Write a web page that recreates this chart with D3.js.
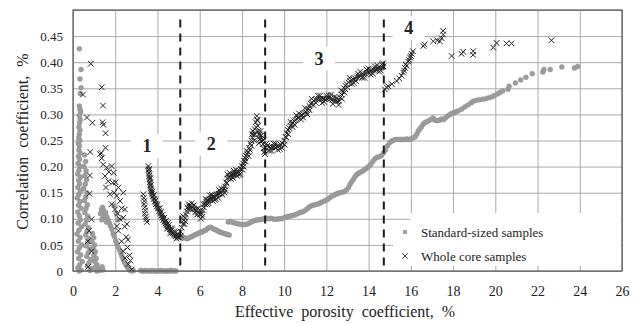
<!DOCTYPE html>
<html>
<head>
<meta charset="utf-8">
<script src="https://cdn.jsdelivr.net/npm/d3@7/dist/d3.min.js"></script>
<style>
  body { margin: 0; background: #fff; }
  text { font-family: "Liberation Serif", "Times New Roman", serif; fill: #222; }
</style>
</head>
<body>
<svg id="chart" width="642" height="324"></svg>
<script>
// tick values / labels
const xTicks = [0, 2, 4, 6, 8, 10, 12, 14, 16, 18, 20, 22, 24, 26];
const yTicks = [0, 0.05, 0.10, 0.15, 0.20, 0.25, 0.30, 0.35, 0.40, 0.45, 0.50];
const yTickLabels = ['0', '0.05', '0.10', '0.15', '0.20', '0.25', '0.30', '0.35', '0.40', '0.45', ''];

// zone boundaries (dashed) and zone numbers
const zoneBounds = [5.08, 9.1, 14.72];
const zoneLabels = ['1', '2', '3', '4'];
const zoneLabelX = [3.5, 6.55, 11.65, 15.9];
const zoneLabelY = [0.239, 0.244, 0.407, 0.465];

// Standard-sized samples (grey dots), [porosity %, correlation]
const standardSamples = [
  [0.30,0.426],[0.38,0.386],[0.33,0.368],[0.38,0.351],[0.35,0.340],[0.30,0.316],[0.33,0.310],[0.36,0.305],
  [0.30,0.298],[0.34,0.290],[0.31,0.284],[0.28,0.276],[0.33,0.270],[0.30,0.262],[0.27,0.255],[0.32,0.250],
  [0.25,0.245],[0.30,0.240],[0.28,0.232],[0.34,0.226],[0.26,0.220],[0.31,0.214],[0.24,0.206],[0.33,0.200],
  [0.28,0.193],[0.22,0.186],[0.35,0.180],[0.27,0.174],[0.31,0.167],[0.23,0.160],[0.36,0.153],[0.28,0.147],
  [0.20,0.140],[0.33,0.133],[0.26,0.126],[0.38,0.120],[0.22,0.113],[0.30,0.106],[0.35,0.098],[0.24,0.092],
  [0.40,0.085],[0.28,0.078],[0.19,0.071],[0.34,0.064],[0.25,0.057],[0.42,0.050],[0.30,0.044],[0.21,0.037],
  [0.36,0.031],[0.27,0.024],[0.44,0.018],[0.32,0.012],[0.23,0.006],[0.38,0.002],[0.29,0.000],
  [0.55,0.222],[0.60,0.210],[0.52,0.200],[0.62,0.192],[0.56,0.183],[0.64,0.175],[0.58,0.166],[0.50,0.158],
  [0.66,0.150],[0.60,0.142],[0.54,0.135],[0.68,0.127],[0.62,0.120],[0.56,0.112],[0.70,0.105],[0.64,0.098],
  [0.58,0.090],[0.73,0.083],[0.66,0.076],[0.60,0.069],[0.76,0.062],[0.69,0.055],[0.62,0.048],[0.80,0.042],
  [0.72,0.035],[0.65,0.028],[0.84,0.022],[0.76,0.016],[0.68,0.010],[0.88,0.005],[0.80,0.001],
  [0.92,0.072],[0.98,0.064],[0.90,0.056],[1.02,0.050],[0.95,0.043],[1.06,0.037],[0.99,0.030],[1.10,0.024],
  [1.03,0.018],[1.14,0.012],[1.07,0.007],[1.18,0.003],[1.25,0.001],[1.12,0.000],[1.32,0.004],[1.38,0.008],[1.42,0.002],
  [1.30,0.110],[1.35,0.118],[1.40,0.122],[1.45,0.116],[1.50,0.108],[1.42,0.102],[1.36,0.098],[1.55,0.112],
  [1.60,0.104],[1.65,0.098],[1.58,0.094],
  [1.72,0.092],[1.78,0.086],[1.84,0.080],[1.90,0.072],[1.96,0.066],[2.02,0.058],[2.08,0.052],[2.14,0.046],
  [2.20,0.040],[2.26,0.034],[2.32,0.028],[2.38,0.022],[2.44,0.017],[2.50,0.012],[2.56,0.008],[2.62,0.005],
  [2.70,0.002],[2.78,0.000],[2.86,0.001],[1.95,0.125],[2.05,0.110],[2.12,0.098],
  [3.20,0.001],[3.28,0],[3.36,0],[3.44,0.001],[3.52,0],[3.60,0],[3.68,0],[3.76,0.001],[3.84,0],[3.92,0],
  [4.00,0],[4.08,0],[4.16,0.001],[4.24,0],[4.32,0],[4.40,0],[4.48,0],[4.56,0],[4.64,0.001],[4.72,0],[4.80,0],[4.88,0],
  [3.56,0.196],[3.60,0.188],[3.62,0.180],[3.64,0.172],[3.66,0.165],[3.68,0.158],[3.72,0.150],[3.76,0.144],
  [3.82,0.138],[3.90,0.130],[4.00,0.120],[4.10,0.112],[4.20,0.104],[4.30,0.096],[4.40,0.090],[4.50,0.084],
  [4.60,0.078],[4.70,0.074],[4.80,0.070],[4.90,0.068],
  [5.00,0.066],[5.08,0.064],[5.16,0.063],[5.24,0.064],[5.32,0.063],[5.40,0.062],[5.48,0.063],[5.56,0.065],
  [5.64,0.066],[5.72,0.068],[5.80,0.070],[5.88,0.071],[5.96,0.073],[6.04,0.074],[6.12,0.075],[6.20,0.077],
  [6.28,0.078],[6.36,0.081],[6.44,0.083],[6.52,0.084],[6.60,0.082],[6.68,0.080],[6.76,0.079],[6.84,0.077],
  [6.92,0.075],[7.00,0.074],[7.08,0.073],[7.16,0.072],[7.24,0.071],[7.32,0.070],[7.40,0.069],
  [7.35,0.094],[7.45,0.095],[7.55,0.093],[7.65,0.092],[7.75,0.091],[7.85,0.090],[7.95,0.089],[8.05,0.089],
  [8.15,0.089],[8.25,0.090],[8.35,0.092],[8.45,0.094],[8.55,0.096],[8.65,0.097],[8.75,0.098],[8.85,0.098],
  [8.95,0.099],[9.05,0.100],[9.15,0.101],
  [9.25,0.100],[9.35,0.101],[9.45,0.100],[9.55,0.099],[9.65,0.099],[9.75,0.100],[9.85,0.100],[9.95,0.101],
  [10.05,0.103],[10.15,0.104],[10.25,0.105],[10.35,0.106],[10.45,0.107],[10.55,0.108],[10.65,0.110],[10.75,0.112],
  [10.85,0.113],[10.95,0.115],[11.05,0.118],[11.15,0.121],[11.25,0.124],[11.35,0.126],[11.45,0.127],[11.55,0.128],
  [11.65,0.129],[11.75,0.131],[11.85,0.133],[11.95,0.135],[12.05,0.137],[12.15,0.140],[12.25,0.143],[12.35,0.145],
  [12.45,0.147],[12.55,0.149],[12.65,0.150],[12.75,0.151],[12.85,0.152],[12.95,0.155],[13.05,0.160],[13.12,0.166],
  [13.20,0.171],[13.28,0.176],[13.36,0.181],[13.44,0.185],[13.52,0.187],[13.60,0.189],[13.70,0.191],[13.80,0.194],
  [13.90,0.197],[14.00,0.200],[14.10,0.204],[14.20,0.210],[14.30,0.215],[14.40,0.218],[14.50,0.219],[14.60,0.221],
  [14.70,0.226],[14.80,0.232],[14.90,0.240],[15.00,0.246],
  [15.10,0.249],[15.20,0.251],[15.30,0.252],[15.40,0.252],[15.50,0.252],[15.60,0.252],[15.70,0.252],[15.80,0.253],
  [15.90,0.252],[16.00,0.253],[16.10,0.255],[16.20,0.257],[16.28,0.262],[16.35,0.268],[16.42,0.272],[16.50,0.276],
  [16.58,0.281],[16.66,0.284],[16.75,0.286],[16.85,0.288],[16.95,0.290],[17.05,0.293],[17.15,0.289],[17.25,0.288],
  [17.35,0.289],[17.45,0.291],[17.55,0.290],[17.65,0.294],[17.75,0.297],[17.85,0.300],[17.95,0.302],[18.05,0.303],
  [18.15,0.305],[18.25,0.307],[18.40,0.310],[18.55,0.314],[18.70,0.318],[18.85,0.322],[18.95,0.325],[19.10,0.327],
  [19.25,0.328],[19.40,0.329],[19.55,0.330],[19.70,0.332],[19.85,0.334],[19.95,0.336],[20.10,0.339],[20.22,0.342],
  [20.35,0.345],[20.60,0.348],[20.65,0.354],[20.95,0.360],[21.20,0.366],[21.45,0.371],[21.75,0.378],[22.25,0.381],
  [22.30,0.386],[22.60,0.386],[23.15,0.391],[23.75,0.389],[23.90,0.392]
];

// Whole core samples (crosses), [porosity %, correlation]
const wholeCoreSamples = [
  [0.84,0.397],[1.36,0.352],[0.47,0.338],[1.42,0.317],[0.66,0.294],[0.92,0.284],[1.40,0.285],[1.44,0.280],
  [1.54,0.264],[0.82,0.228],[1.34,0.226],[1.54,0.236],
  [0.80,0.183],[0.78,0.148],[0.88,0.099],[0.76,0.077],[0.70,0.057],[0.88,0.038],[0.72,0.008],
  [1.28,0.224],[1.36,0.216],[1.43,0.204],[1.60,0.198],[1.83,0.201],[1.52,0.182],[1.67,0.172],[1.88,0.169],
  [1.56,0.160],[1.75,0.147],[2.07,0.144],[2.23,0.134],[1.83,0.128],[1.99,0.118],[2.38,0.150],[2.46,0.118],
  [2.38,0.102],[2.07,0.086],[2.15,0.077],[2.30,0.057],[2.38,0.038],[2.46,0.025],[2.62,0.013],[2.78,0.003],
  [2.52,0.065],[2.58,0.045],[2.68,0.030],[2.72,0.020],[2.22,0.100],[2.12,0.110],[1.95,0.150],[1.70,0.190],
  [1.92,0.188],[2.02,0.170],[2.15,0.160],[2.30,0.120],[2.45,0.085],[2.55,0.090],[2.60,0.060],
  [3.33,0.147],[3.35,0.140],[3.38,0.134],[3.36,0.128],[3.40,0.122],[3.42,0.116],[3.40,0.110],[3.44,0.104],
  [3.47,0.099],[3.50,0.094],
  [3.57,0.201],[3.58,0.194],[3.60,0.188],[3.61,0.182],[3.63,0.176],[3.64,0.170],[3.66,0.164],[3.68,0.158],
  [3.70,0.153],[3.74,0.148],[3.78,0.143],[3.83,0.138],[3.88,0.133],[3.93,0.128],[3.98,0.124],[4.03,0.120],
  [4.08,0.115],[4.13,0.110],[4.18,0.106],[4.23,0.102],[4.28,0.098],[4.33,0.094],[4.38,0.091],[4.43,0.088],
  [4.48,0.085],[4.53,0.083],[4.58,0.080],[4.63,0.077],[4.68,0.074],[4.73,0.072],[4.78,0.070],[4.83,0.068],
  [4.88,0.067],[4.93,0.066],[4.98,0.065],[5.03,0.064],
  [4.10,0.120],[4.25,0.108],[4.40,0.096],[4.55,0.088],[4.70,0.080],[4.85,0.074],[4.60,0.072],[4.45,0.081],
  [3.62,0.196],[3.66,0.178],[3.70,0.165],[3.76,0.152],[3.84,0.146],[3.92,0.136],[4.00,0.128],[4.18,0.114],
  [4.32,0.102],[4.50,0.092],[4.66,0.082],[4.80,0.076],[4.95,0.071],[4.90,0.062],
  [5.10,0.075],[5.15,0.083],[5.20,0.090],[5.25,0.097],[5.30,0.102],[5.35,0.108],[5.40,0.114],[5.45,0.119],
  [5.50,0.124],[5.55,0.126],[5.60,0.124],[5.65,0.122],[5.70,0.120],[5.75,0.119],[5.80,0.118],[5.85,0.116],
  [5.90,0.113],[5.95,0.111],[6.00,0.109],[6.05,0.108],[6.10,0.110],[6.15,0.116],[6.20,0.122],[6.25,0.128],
  [6.30,0.133],[6.35,0.135],[6.40,0.136],[6.45,0.137],[6.50,0.138],[6.55,0.139],[6.60,0.140],[6.65,0.141],
  [6.70,0.143],[6.75,0.145],[6.80,0.146],[6.85,0.147],[6.90,0.148],[6.95,0.149],[7.00,0.150],[7.05,0.152],
  [7.10,0.155],[7.15,0.158],[7.20,0.162],[7.25,0.170],[7.30,0.177],[7.35,0.179],[7.40,0.180],[7.45,0.182],
  [7.50,0.183],[7.55,0.184],[7.60,0.185],[7.65,0.186],[7.70,0.187],[7.75,0.188],[7.80,0.189],[7.85,0.190],
  [7.90,0.192],[7.95,0.196],[8.00,0.201],[8.05,0.206],[8.10,0.211],[8.15,0.216],[8.20,0.220],[8.25,0.224],
  [8.30,0.228],[8.35,0.236],[8.40,0.244],[8.45,0.250],[8.50,0.256],[8.55,0.262],[8.60,0.272],[8.65,0.285],
  [8.70,0.297],[8.72,0.290],[8.75,0.278],[8.78,0.268],[8.82,0.262],[8.86,0.258],[8.90,0.254],[8.95,0.249],
  [9.00,0.243],[9.03,0.235],[9.06,0.228],[9.09,0.224],
  [5.22,0.105],[5.32,0.095],[5.48,0.128],[5.62,0.130],[5.78,0.112],[5.92,0.120],[6.05,0.100],[6.18,0.128],
  [6.35,0.128],[6.48,0.145],[6.62,0.134],[6.78,0.138],[6.92,0.155],[7.08,0.146],[7.22,0.155],[7.32,0.185],
  [7.48,0.176],[7.62,0.192],[7.78,0.182],[7.92,0.186],[8.08,0.200],[8.22,0.230],[8.38,0.232],[8.48,0.262],
  [8.58,0.250],[8.68,0.275],[8.80,0.245],[8.88,0.268],
  [5.12,0.068],[5.28,0.090],[5.42,0.122],[5.58,0.118],[5.72,0.126],[5.88,0.108],[6.02,0.116],[6.12,0.104],
  [6.28,0.138],[6.42,0.130],[6.58,0.146],[6.72,0.136],[6.88,0.140],[7.02,0.158],[7.18,0.150],[7.28,0.168],
  [7.42,0.188],[7.58,0.178],[7.72,0.194],[7.88,0.184],[8.02,0.194],[8.18,0.210],[8.32,0.220],[8.44,0.240],
  [8.52,0.268],[8.62,0.262],[8.74,0.288],[8.84,0.252],[8.92,0.260],[9.02,0.250],
  [9.12,0.236],[9.20,0.240],[9.28,0.238],[9.36,0.236],[9.44,0.237],[9.52,0.238],[9.60,0.237],[9.68,0.239],
  [9.76,0.240],[9.84,0.242],[9.92,0.244],[10.00,0.250],[10.06,0.257],[10.12,0.264],[10.18,0.270],[10.24,0.274],
  [10.30,0.278],[10.36,0.281],[10.42,0.284],[10.48,0.287],[10.54,0.289],[10.60,0.291],[10.66,0.293],[10.72,0.295],
  [10.78,0.297],[10.84,0.299],[10.90,0.301],[10.96,0.303],[11.02,0.305],[11.08,0.308],[11.14,0.311],[11.20,0.316],
  [11.26,0.320],[11.32,0.323],[11.40,0.326],[11.48,0.328],[11.56,0.329],[11.64,0.330],[11.72,0.330],[11.80,0.331],
  [11.88,0.330],[11.96,0.329],[12.04,0.330],[12.12,0.331],[12.20,0.330],[12.28,0.328],[12.36,0.327],[12.44,0.326],
  [12.52,0.325],[12.60,0.326],[12.66,0.332],[12.72,0.338],[12.78,0.344],[12.84,0.350],[12.90,0.355],[12.96,0.358],
  [13.04,0.361],[13.12,0.364],[13.20,0.366],[13.28,0.367],[13.36,0.369],[13.44,0.371],[13.52,0.373],[13.60,0.374],
  [13.68,0.376],[13.76,0.377],[13.84,0.378],[13.92,0.380],[14.00,0.381],[14.08,0.382],[14.16,0.384],[14.24,0.385],
  [14.32,0.386],[14.40,0.387],[14.48,0.388],[14.56,0.389],[14.64,0.390],[14.70,0.392],
  [9.30,0.230],[9.50,0.244],[9.70,0.232],[9.90,0.236],[10.10,0.256],[10.30,0.286],[10.50,0.280],[10.70,0.302],
  [10.90,0.294],[11.10,0.300],[11.30,0.330],[11.50,0.322],[11.70,0.336],[11.90,0.324],[12.10,0.337],[12.30,0.320],
  [12.50,0.332],[12.70,0.346],[12.90,0.348],[13.10,0.370],[13.30,0.360],[13.50,0.378],[13.70,0.370],[13.90,0.386],
  [14.10,0.376],[14.30,0.392],[14.50,0.382],[14.62,0.396],
  [9.16,0.244],[9.40,0.230],[9.58,0.244],[9.80,0.234],[10.02,0.242],[10.20,0.262],[10.40,0.276],[10.58,0.298],
  [10.80,0.290],[11.00,0.312],[11.20,0.308],[11.38,0.318],[11.60,0.336],[11.80,0.322],[12.00,0.336],[12.22,0.338],
  [12.40,0.334],[12.58,0.318],[12.74,0.330],[12.86,0.342],[13.00,0.352],[13.20,0.358],[13.40,0.364],[13.60,0.382],
  [13.80,0.370],[14.00,0.388],[14.20,0.378],[14.40,0.394],[14.58,0.384],[14.68,0.398],
  [14.77,0.348],[14.85,0.352],[14.93,0.354],[15.10,0.358],[15.33,0.364],[15.45,0.369],[15.56,0.374],[15.64,0.380],
  [15.72,0.389],[15.80,0.393],[15.88,0.401],[15.96,0.409],[16.04,0.416],[16.10,0.421],[16.59,0.431],[16.65,0.434],
  [17.06,0.440],[17.25,0.442],[17.38,0.440],[17.46,0.446],[17.53,0.453],[17.53,0.460],[17.93,0.412],[18.40,0.416],
  [18.48,0.420],[18.95,0.421],[18.95,0.414],[19.90,0.428],[20.06,0.437],[20.53,0.436],[20.77,0.436],[22.66,0.442],
  [15.68,0.384],[15.76,0.396],[15.92,0.404],[16.00,0.412]
];

const margin = { left: 73, right: 20, top: 10, bottom: 53 };
const width = 642, height = 324;

const svg = d3.select('#chart');

const x = d3.scaleLinear().domain([0, 26]).range([margin.left, width - margin.right]);
const y = d3.scaleLinear().domain([0, 0.5]).range([height - margin.bottom, margin.top]);

const gridColor = '#a9a9a9';

// grid + tick labels via axes
const xAxis = svg.append('g')
  .attr('transform', `translate(0,${y(0)})`)
  .call(d3.axisBottom(x).tickValues(xTicks).tickSize(-(y(0) - y(0.5))).tickPadding(15).tickFormat(d3.format('d')));
xAxis.select('.domain').remove();
xAxis.selectAll('line').attr('stroke', gridColor);
xAxis.selectAll('text').attr('font-size', 14).attr('font-family', 'Liberation Serif').attr('fill', '#222');

const yAxis = svg.append('g')
  .attr('transform', `translate(${x(0)},0)`)
  .call(d3.axisLeft(y).tickValues(yTicks).tickSize(-(x(26) - x(0))).tickPadding(10)
    .tickFormat((d, i) => yTickLabels[i]));
yAxis.select('.domain').remove();
yAxis.selectAll('line').attr('stroke', gridColor);
yAxis.selectAll('text').attr('font-size', 13).attr('font-family', 'Liberation Serif').attr('fill', '#222');

// white boxes behind zone numbers
const labelG = svg.append('g');
zoneLabels.forEach((t, i) => {
  labelG.append('rect')
    .attr('x', x(zoneLabelX[i]) - 16).attr('y', y(zoneLabelY[i]) - 12)
    .attr('width', 32).attr('height', 24)
    .attr('fill', '#fff');
});

// legend background
const legend = svg.append('g');
legend.append('rect').attr('x', 410).attr('y', 213).attr('width', x(26) - 410 - 1).attr('height', 53).attr('fill', '#fff');
legend.append('rect').attr('x', 393).attr('y', 223).attr('width', 20).attr('height', 43).attr('fill', '#fff');

// data
svg.append('g')
  .selectAll('circle')
  .data(standardSamples)
  .join('circle')
  .attr('cx', d => x(d[0]))
  .attr('cy', d => y(d[1]))
  .attr('r', 2.5)
  .attr('fill', '#9d9d9d')
  .attr('stroke', '#8c8c8c')
  .attr('stroke-width', 0.4);

const cross = d3.symbol(d3.symbolTimes, 22);
svg.append('g')
  .selectAll('path')
  .data(wholeCoreSamples)
  .join('path')
  .attr('transform', d => `translate(${x(d[0])},${y(d[1])})`)
  .attr('d', cross)
  .attr('fill', 'none')
  .attr('stroke', '#222')
  .attr('stroke-width', 1);

// zone boundaries
svg.append('g')
  .selectAll('line')
  .data(zoneBounds)
  .join('line')
  .attr('x1', d => x(d)).attr('x2', d => x(d))
  .attr('y1', y(0.482)).attr('y2', y(0.008))
  .attr('stroke', '#1a1a1a')
  .attr('stroke-width', 2)
  .attr('stroke-dasharray', '8,6');

// zone numbers
labelG.selectAll('text')
  .data(zoneLabels)
  .join('text')
  .attr('x', (d, i) => x(zoneLabelX[i]))
  .attr('y', (d, i) => y(zoneLabelY[i]) + 6)
  .attr('text-anchor', 'middle')
  .attr('font-size', 18)
  .attr('font-weight', 'bold')
  .text(d => d);

// legend items
legend.append('circle').attr('cx', 405).attr('cy', 232).attr('r', 2.3).attr('fill', '#9d9d9d');
legend.append('path').attr('transform', 'translate(405,256)').attr('d', cross).attr('fill', 'none').attr('stroke', '#262626').attr('stroke-width', 0.9);
legend.append('text').attr('x', 421).attr('y', 237).attr('font-size', 13).text('Standard-sized samples');
legend.append('text').attr('x', 421).attr('y', 261).attr('font-size', 13).text('Whole core samples');

// plot frame
svg.append('rect')
  .attr('x', x(0)).attr('y', y(0.5))
  .attr('width', x(26) - x(0)).attr('height', y(0) - y(0.5))
  .attr('fill', 'none').attr('stroke', '#555').attr('stroke-width', 1.2);

// axis titles
svg.append('text')
  .attr('x', 345).attr('y', 317)
  .attr('text-anchor', 'middle')
  .attr('font-size', 16)
  .attr('word-spacing', 4)
  .text('Effective porosity coefficient, %');

svg.append('text')
  .attr('transform', `translate(28,${(y(0) + y(0.5)) / 2 + 1}) rotate(-90)`)
  .attr('text-anchor', 'middle')
  .attr('font-size', 16)
  .attr('word-spacing', 5)
  .text('Correlation coefficient, %');
</script>
</body>
</html>
